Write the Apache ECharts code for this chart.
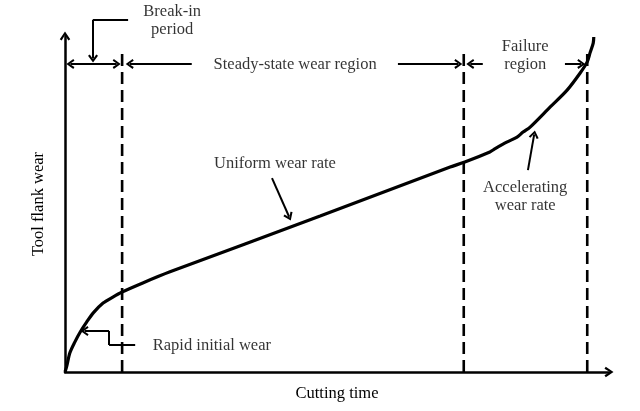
<!DOCTYPE html>
<html>
<head>
<meta charset="utf-8">
<script src="https://cdn.jsdelivr.net/npm/echarts@6/dist/echarts.min.js"></script>
<style>
  html, body { margin: 0; padding: 0; background: #fff; }
  #chart-container { width: 640px; height: 411px; }
</style>
</head>
<body>
<div id="chart-container"></div>
<script>
// wear curve (time 0..100, wear 0..100)
const cuttingTime = [0, 0.3, 0.9, 1.8, 2.8, 4.0, 5.2, 7.0, 8.8, 10.5, 14.3, 19.3, 46.9, 70.8, 73.5, 78.1, 78.8, 81.2, 83.1, 84.2, 85.5, 89.2, 92.3, 94.7, 96.0, 96.5, 97.1, 97.2];
const flankWear = [0, 1.6, 5.7, 8.9, 11.9, 14.9, 17.6, 20.5, 22.3, 23.8, 26.5, 29.8, 46.4, 61.0, 62.5, 65.5, 66.2, 68.4, 69.9, 71.4, 72.9, 78.9, 83.9, 89.0, 92.3, 94.9, 97.9, 99.7];

// region boundaries (break-in | steady-state | failure)
const regionBounds = [10.5, 73.3, 96.0];
const boundTop = 95.8;

// annotation texts
const noteNames = ["Break-in\nperiod", "Steady-state wear region", "Failure\nregion", "Uniform wear rate", "Accelerating\nwear rate", "Rapid initial wear"];
const noteX = [19.7, 42.3, 84.6, 38.6, 84.6, 27.0];
const noteY = [104.5, 91.6, 94.0, 61.9, 52.3, 7.8];

// pointer lines: [x1, y1, x2, y2, arrowAtStart, arrowAtEnd]
const pointers = [
  [1.0, 91.7, 9.5, 91.7, true, true],
  [23.3, 91.7, 11.9, 91.7, false, true],
  [61.2, 91.7, 72.3, 91.7, false, true],
  [76.8, 91.7, 74.5, 91.7, false, true],
  [91.9, 91.7, 94.9, 91.7, false, true],
  [11.6, 104.8, 5.15, 104.8, false, false],
  [5.15, 104.8, 5.15, 93.3, false, true],
  [12.9, 8.0, 8.1, 8.0, false, false],
  [8.1, 8.0, 8.1, 12.2, false, false],
  [8.1, 12.2, 3.6, 12.2, false, true],
  [38.05, 57.7, 41.2, 46.2, false, true],
  [85.1, 60.1, 86.25, 70.7, false, true],
];

const chevron = "path://M5,0L10,7.4L8.2,8.6L5,3.4L1.8,8.6L0,7.4Z";
const serif = "Liberation Serif";
const fontSize = 16.5;

const dom = document.getElementById("chart-container");
const myChart = echarts.init(dom, null, { renderer: "canvas" });

const hiddenAxis = {
  type: "value",
  show: false,
  axisLine: { show: false },
  axisTick: { show: false },
  axisLabel: { show: false },
  splitLine: { show: false },
};

const mainAxisLine = {
  show: true,
  symbol: ["none", chevron],
  symbolSize: [12, 9],
  lineStyle: { color: "#000", width: 2.5 },
};

const option = {
  animation: false,
  backgroundColor: "#fff",
  grid: [
    { left: 65, right: 31, top: 36, bottom: 39 },
    { left: 65, right: 31, top: 0, bottom: 39 },
  ],
  xAxis: [
    {
      type: "value",
      gridIndex: 0,
      min: 0,
      max: 100,
      name: "Cutting time",
      nameLocation: "middle",
      nameGap: 13,
      nameTextStyle: { fontFamily: serif, fontSize: fontSize, color: "#000" },
      axisLine: mainAxisLine,
      axisTick: { show: false },
      axisLabel: { show: false },
      splitLine: { show: false },
    },
    Object.assign({ gridIndex: 1, min: 0, max: 100 }, hiddenAxis),
  ],
  yAxis: [
    {
      type: "value",
      gridIndex: 0,
      min: 0,
      max: 100,
      name: "Tool flank wear",
      nameLocation: "middle",
      nameRotate: 90,
      nameGap: 18,
      nameTextStyle: { fontFamily: serif, fontSize: fontSize, color: "#000" },
      axisLine: mainAxisLine,
      axisTick: { show: false },
      axisLabel: { show: false },
      splitLine: { show: false },
    },
    Object.assign({ gridIndex: 1, min: 0, max: 110.714 }, hiddenAxis),
  ],
  series: [
    {
      name: "Tool wear",
      type: "line",
      xAxisIndex: 0,
      yAxisIndex: 0,
      clip: false,
      smooth: 0.3,
      showSymbol: false,
      silent: true,
      lineStyle: { color: "#000", width: 3.2 },
      data: cuttingTime.map((t, i) => [t, flankWear[i]]),
      z: 5,
    },
    ...regionBounds.map((b) => ({
      type: "line",
      xAxisIndex: 0,
      yAxisIndex: 0,
      clip: false,
      showSymbol: false,
      silent: true,
      lineStyle: { color: "#000", width: 2.6, type: [12, 6] },
      data: [
        [b, 0],
        [b, boundTop],
      ],
    })),
    {
      type: "line",
      xAxisIndex: 1,
      yAxisIndex: 1,
      data: [],
      silent: true,
      markLine: {
        silent: true,
        animation: false,
        symbolSize: [10, 8],
        label: { show: false },
        emphasis: { disabled: true },
        lineStyle: { color: "#000", width: 2, type: "solid" },
        data: pointers.map((p) => [
          { coord: [p[0], p[1]], symbol: p[4] ? chevron : "none" },
          { coord: [p[2], p[3]], symbol: p[5] ? chevron : "none" },
        ]),
      },
    },
    {
      type: "scatter",
      xAxisIndex: 1,
      yAxisIndex: 1,
      symbolSize: 0,
      silent: true,
      clip: false,
      label: {
        show: true,
        position: "inside",
        formatter: "{b}",
        fontFamily: serif,
        fontSize: fontSize,
        lineHeight: 18,
        color: "#000",
        align: "center",
      },
      data: noteNames.map((n, i) => ({ name: n, value: [noteX[i], noteY[i]] })),
    },
  ],
};

myChart.setOption(option);
window.addEventListener("resize", myChart.resize);
</script>
</body>
</html>
